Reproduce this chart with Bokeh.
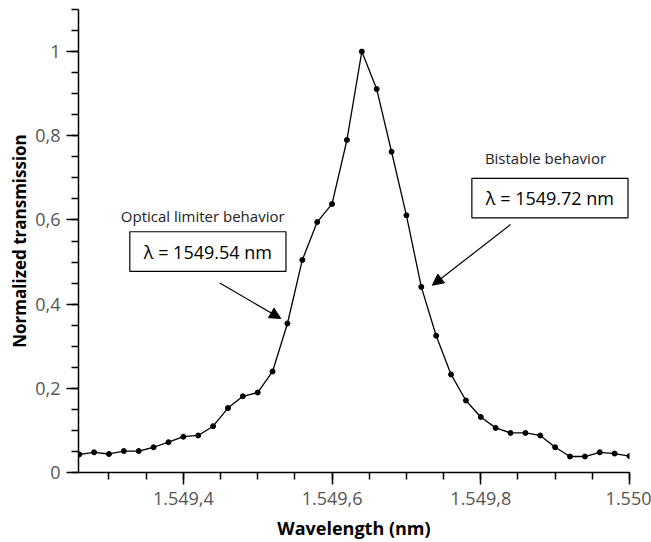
from bokeh.plotting import figure
from bokeh.models import (Range1d, FixedTicker, BoxAnnotation, Label, Arrow,
                          NormalHead)
from bokeh.embed import file_html
from bokeh.resources import INLINE

# Measured transmission spectrum (wavelength in nm, normalized transmission)
wavelength = [1549.26, 1549.28, 1549.30, 1549.32, 1549.34, 1549.36, 1549.38,
              1549.40, 1549.42, 1549.44, 1549.46, 1549.48, 1549.50, 1549.52,
              1549.54, 1549.56, 1549.58, 1549.60, 1549.62, 1549.64, 1549.66,
              1549.68, 1549.70, 1549.72, 1549.74, 1549.76, 1549.78, 1549.80,
              1549.82, 1549.84, 1549.86, 1549.88, 1549.90, 1549.92, 1549.94,
              1549.96, 1549.98, 1550.00]
transmission = [0.043, 0.048, 0.044, 0.051, 0.051, 0.060, 0.072,
                0.085, 0.088, 0.110, 0.153, 0.181, 0.190, 0.240,
                0.354, 0.505, 0.595, 0.638, 0.790, 1.000, 0.911,
                0.762, 0.611, 0.441, 0.325, 0.233, 0.171, 0.132,
                0.106, 0.094, 0.094, 0.088, 0.060, 0.038, 0.038,
                0.048, 0.045, 0.039]

# Tick positions and their (European-style) labels
x_ticks = [1549.4, 1549.6, 1549.8, 1550.0]
x_tick_labels = ["1.549,4", "1.549,6", "1.549,8", "1.550"]
x_minor = [1549.25 + 0.05 * i for i in range(16)]
y_ticks = [0.0, 0.2, 0.4, 0.6, 0.8, 1.0]
y_tick_labels = ["0", "0,2", "0,4", "0,6", "0,8", "1"]
y_minor = [0.05 * i for i in range(23)]

FONT = "Open Sans"

p = figure(width=651, height=542, output_backend="svg", toolbar_location=None,
           x_range=Range1d(1549.259, 1550.0), y_range=Range1d(0, 1.1),
           min_border_left=78, min_border_right=22, min_border_top=9,
           min_border_bottom=70)
p.outline_line_color = None
p.xgrid.visible = False
p.ygrid.visible = False
p.background_fill_color = "white"
p.border_fill_color = "white"

for ax in (p.xaxis[0], p.yaxis[0]):
    ax.axis_line_color = "black"
    ax.axis_line_width = 1.5
    ax.major_tick_line_color = "black"
    ax.minor_tick_line_color = "black"
    ax.major_tick_line_width = 1.5
    ax.minor_tick_line_width = 1.5
    ax.major_tick_in = 0
    ax.major_tick_out = 12
    ax.minor_tick_in = 0
    ax.minor_tick_out = 7
    ax.major_label_text_font = FONT
    ax.major_label_text_font_size = "18px"
    ax.major_label_text_color = "#555555"
    ax.axis_label_text_font = FONT
    ax.axis_label_text_font_style = "bold"
    ax.axis_label_text_color = "black"

p.xaxis.ticker = FixedTicker(ticks=x_ticks, minor_ticks=x_minor)
p.xaxis.major_label_overrides = dict(zip(x_ticks, x_tick_labels))
p.yaxis.ticker = FixedTicker(ticks=y_ticks, minor_ticks=y_minor)
p.yaxis.major_label_overrides = dict(zip(y_ticks, y_tick_labels))
p.xaxis.axis_label = "Wavelength (nm)"
p.yaxis.axis_label = "Normalized transmission"
p.xaxis.axis_label_text_font_size = "18px"
p.yaxis.axis_label_text_font_size = "17px"
p.xaxis.major_label_standoff = 7
p.yaxis.major_label_standoff = 6
p.xaxis.axis_label_standoff = 8
p.yaxis.axis_label_standoff = 1

p.line(wavelength, transmission, line_color="black", line_width=1.3)
p.scatter(wavelength, transmission, size=5, color="black")

# Annotation: optical limiter operating point
p.add_layout(Label(x=1549.426, y=0.609, text="Optical limiter behavior",
                   text_align="center", text_baseline="middle",
                   text_font=FONT, text_font_size="15px",
                   text_color="#222222"))
p.add_layout(BoxAnnotation(left=1549.328, right=1549.538, bottom=0.478,
                           top=0.572, fill_alpha=0, line_color="black",
                           line_alpha=1, line_width=1.2))
p.add_layout(Label(x=1549.433, y=0.525, text="λ = 1549.54 nm",
                   text_align="center", text_baseline="middle",
                   text_font=FONT, text_font_size="18px",
                   text_color="black"))
p.add_layout(Arrow(x_start=1549.449, y_start=0.450, x_end=1549.531,
                   y_end=0.366, line_color="black", line_width=1.2,
                   end=NormalHead(size=11, fill_color="black",
                                  line_color="black")))

# Annotation: bistable operating point
p.add_layout(Label(x=1549.887, y=0.747, text="Bistable behavior",
                   text_align="center", text_baseline="middle",
                   text_font=FONT, text_font_size="15px",
                   text_color="#222222"))
p.add_layout(BoxAnnotation(left=1549.788, right=1549.998, bottom=0.605,
                           top=0.699, fill_alpha=0, line_color="black",
                           line_alpha=1, line_width=1.2))
p.add_layout(Label(x=1549.893, y=0.652, text="λ = 1549.72 nm",
                   text_align="center", text_baseline="middle",
                   text_font=FONT, text_font_size="18px",
                   text_color="black"))
p.add_layout(Arrow(x_start=1549.840, y_start=0.589, x_end=1549.735,
                   y_end=0.445, line_color="black", line_width=1.2,
                   end=NormalHead(size=11, fill_color="black",
                                  line_color="black")))

open("out.html", "w").write(file_html(p, INLINE))
